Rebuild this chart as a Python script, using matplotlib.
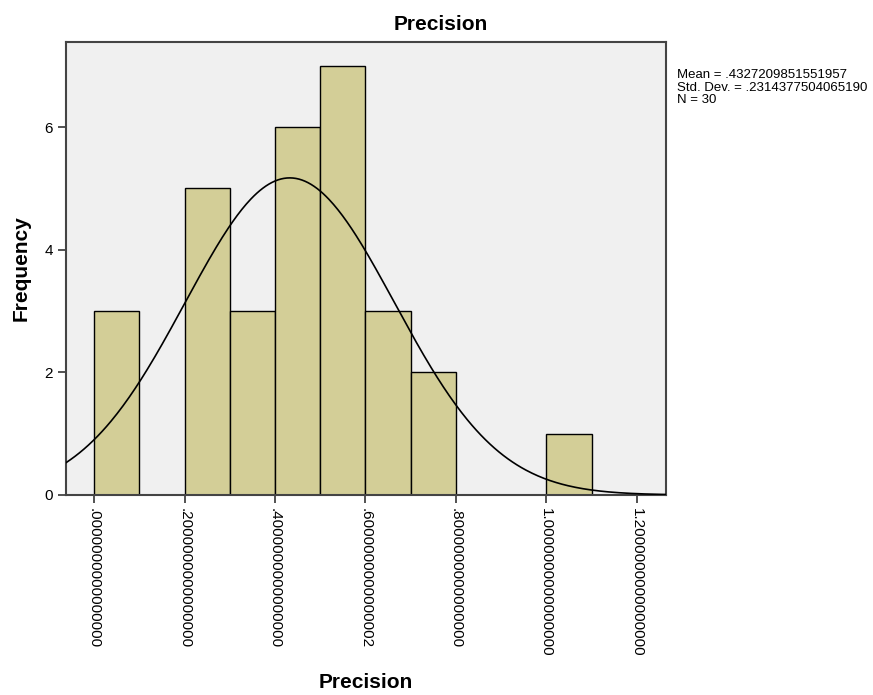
import numpy as np
import matplotlib
matplotlib.use("Agg")
import matplotlib.pyplot as plt

# histogram data (bin width 0.1)
bin_left = [0.0, 0.1, 0.2, 0.3, 0.4, 0.5, 0.6, 0.7, 0.8, 0.9, 1.0]
counts = [3, 0, 5, 3, 6, 7, 3, 2, 0, 0, 1]
bin_width = 0.1

mean = 0.4327209851551957
std = 0.2314377504065190
n = 30

x_ticks = [0.0, 0.2, 0.4, 0.6, 0.8, 1.0, 1.2]
x_tick_labels = [".0000000000000000", ".2000000000000000", ".4000000000000000",
                 ".6000000000000002", ".8000000000000000", "1.0000000000000000",
                 "1.2000000000000000"]
y_ticks = [0, 2, 4, 6]

plt.rcParams['font.family'] = ['Liberation Sans', 'DejaVu Sans']

fig = plt.figure(figsize=(8.73, 6.95), dpi=100)
ax = fig.add_axes([0.0756, 0.2878, 0.687, 0.652])
ax.set_facecolor("#f0f0f0")

ax.bar(bin_left, counts, width=bin_width, align="edge",
       color="#d3ce97", edgecolor="black", linewidth=1.0, zorder=2)

xlo, xhi = -0.062, 1.264
xs = np.linspace(xlo, xhi, 400)
ys = n * bin_width * np.exp(-0.5 * ((xs - mean) / std) ** 2) / (std * np.sqrt(2 * np.pi))
ax.plot(xs, ys, color="black", linewidth=1.2, zorder=3)

ax.set_xlim(xlo, xhi)
ax.set_ylim(0, 7.39)
ax.set_xticks(x_ticks)
ax.set_xticklabels(x_tick_labels, rotation=-90, fontsize=11)
ax.set_yticks(y_ticks)
ax.set_yticklabels([str(v) for v in y_ticks], fontsize=11)
ax.tick_params(direction="out", length=6, width=1.2, color="#333333")

for s in ax.spines.values():
    s.set_color("#444444")
    s.set_linewidth(1.5)

fig.text(0.505, 0.965, "Precision", fontsize=15, fontweight="bold",
         ha="center", va="center")
ax.set_xlabel("Precision", fontsize=15, fontweight="bold", va="center")
ax.xaxis.set_label_coords(0.5, -0.413)
ax.set_ylabel("Frequency", fontsize=15, fontweight="bold", va="center")
ax.yaxis.set_label_coords(-0.074, 0.5)

fig.text(0.775, 0.900,
         "Mean = .4327209851551957\nStd. Dev. = .2314377504065190\nN = 30",
         fontsize=9.5, va="top", ha="left", linespacing=1.05)

fig.savefig("out.png", dpi=100)
